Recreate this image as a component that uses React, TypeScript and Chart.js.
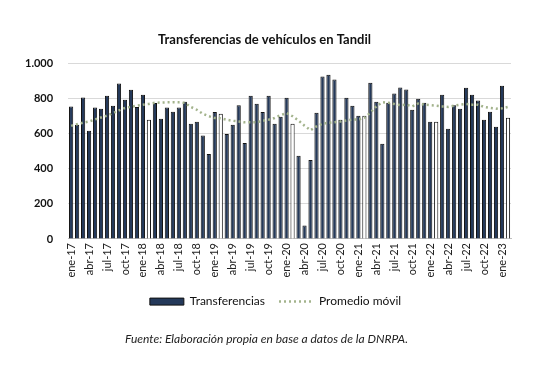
import React, { useEffect, useRef } from "react";
import { Chart, registerables } from "chart.js";

Chart.register(...registerables);

const MONTHS = ["ene", "feb", "mar", "abr", "may", "jun", "jul", "ago", "sep", "oct", "nov", "dic"];
const YEARS = ["17", "18", "19", "20", "21", "22", "23"];
const CATEGORIES: string[] = YEARS.flatMap((y) => MONTHS.map((m) => `${m}-${y}`)).slice(0, 74);

const TRANSFERENCIAS = [
  756, 651, 807, 617, 750, 743, 817, 760, 886, 794, 851, 752,
  823, 680, 775, 686, 750, 726, 750, 782, 657, 668, 590, 484,
  724, 714, 598, 651, 763, 547, 817, 771, 724, 817, 657, 697,
  806, 657, 474, 77, 451, 720, 926, 937, 909, 680, 806, 760,
  703, 703, 891, 783, 543, 777, 829, 864, 853, 737, 800, 777,
  668, 668, 823, 629, 763, 743, 863, 823, 789, 680, 726, 640,
  874, 691,
];

const PROMEDIO_MOVIL = [
  645, 655, 663, 670, 682, 693, 703, 718, 733, 747, 754, 760,
  766, 770, 777, 778, 779, 780, 779, 776, 753, 737, 714, 700,
  690, 688, 680, 674, 670, 665, 665, 665, 674, 680, 690, 706,
  718, 700, 675, 646, 620, 642, 657, 663, 665, 670, 676, 680,
  682, 690, 720, 756, 780, 777, 770, 763, 766, 756, 772, 766,
  763, 760, 756, 753, 760, 766, 770, 766, 766, 753, 747, 743,
  745, 753,
];

const HIGHLIGHTED = ["feb-18", "feb-19", "feb-20", "feb-21", "feb-22", "feb-23"];
const Y_MIN = 0;
const Y_MAX = 1000;
const Y_STEP = 200;

const TITLE = "Transferencias de vehículos en Tandil";
const SOURCE = "Fuente: Elaboración propia en base a datos de la DNRPA.";
const FONT = "Lato, 'Liberation Sans', sans-serif";

const fmt = (v: number) => {
  const s = String(Math.round(v));
  return s.length > 3 ? s.slice(0, s.length - 3) + "." + s.slice(s.length - 3) : s;
};

// shifts the bottom/top text blocks horizontally to match the reference centring
const shiftBlocks = {
  id: "shiftBlocks",
  afterLayout(chart: any) {
    const shift = (box: any, dx: number) => {
      if (!box) return;
      box.left += dx;
      box.right += dx;
    };
    chart.boxes.forEach((box: any) => {
      if (box === chart.legend) shift(box, 15);
      else if (box.options && box.options.text === SOURCE) shift(box, 6);
      else if (box.options && box.options.text === TITLE) shift(box, 4);
    });
  },
};

export default function App() {
  const ref = useRef<HTMLCanvasElement | null>(null);

  useEffect(() => {
    if (!ref.current) return;
    const chart = new Chart(ref.current, {
      type: "bar",
      data: {
        labels: CATEGORIES,
        datasets: [
          {
            type: "bar",
            label: "Transferencias",
            data: TRANSFERENCIAS,
            backgroundColor: CATEGORIES.map((c) => (HIGHLIGHTED.includes(c) ? "#ffffff" : "#24395a")),
            borderColor: "#111111",
            borderWidth: 1,
            barPercentage: 0.7,
            categoryPercentage: 1,
            order: 1,
          } as any,
          {
            type: "line",
            label: "Promedio móvil",
            data: PROMEDIO_MOVIL,
            borderColor: "#a3b38c",
            backgroundColor: "transparent",
            borderDash: [2, 3],
            borderWidth: 2.5,
            pointRadius: 0,
            tension: 0,
            order: 0,
          } as any,
        ],
      },
      plugins: [shiftBlocks],
      options: {
        responsive: false,
        animation: false,
        layout: { padding: { left: 10, right: 43, top: 0, bottom: 21 } },
        plugins: {
          tooltip: { enabled: false },
          title: {
            display: true,
            text: TITLE,
            color: "#111111",
            font: { family: FONT, size: 13, weight: "bold" },
            padding: { top: 32, bottom: 16 },
          },
          subtitle: {
            display: true,
            position: "bottom",
            text: SOURCE,
            color: "#222222",
            font: { family: FONT, size: 12, style: "italic" },
            padding: { top: 14, bottom: 0 },
          },
          legend: {
            display: true,
            position: "bottom",
            labels: {
              usePointStyle: true,
              pointStyleWidth: 34,
              boxHeight: 7,
              padding: 14,
              color: "#111111",
              font: { family: FONT, size: 12 },
              sort: (a: any, b: any) => a.datasetIndex - b.datasetIndex,
              generateLabels: (ch: any) => {
                const items = Chart.defaults.plugins.legend.labels.generateLabels(ch);
                items.forEach((it: any) => {
                  if (it.datasetIndex === 0) {
                    it.pointStyle = "rect";
                    it.fillStyle = "#24395a";
                    it.strokeStyle = "#111111";
                    it.lineWidth = 1;
                    it.lineDash = [];
                  } else {
                    it.pointStyle = "line";
                    it.strokeStyle = "#a3b38c";
                    it.lineWidth = 2.5;
                    it.lineDash = [2, 3];
                  }
                });
                return items;
              },
            },
          },
        },
        scales: {
          x: {
            grid: { display: false, drawTicks: false },
            border: { display: true, color: "#bfbfbf" },
            ticks: {
              autoSkip: false,
              minRotation: 90,
              maxRotation: 90,
              padding: 4,
              color: "#222222",
              font: { family: FONT, size: 11 },
              callback: (_v: any, i: number) => (i % 3 === 0 ? CATEGORIES[i] : ""),
            },
          },
          y: {
            min: Y_MIN,
            max: Y_MAX,
            grid: { color: "#d9d9d9", drawTicks: false },
            border: { display: false },
            ticks: {
              stepSize: Y_STEP,
              padding: 15,
              color: "#111111",
              font: { family: FONT, size: 11, weight: "bold" },
              callback: (v: any) => fmt(Number(v)),
            },
          },
        },
      },
    });
    return () => chart.destroy();
  }, []);

  return (
    <div style={{ position: "absolute", left: 0, top: 0, width: 554, height: 367, background: "#ffffff" }}>
      <canvas ref={ref} width={554} height={367} />
    </div>
  );
}
